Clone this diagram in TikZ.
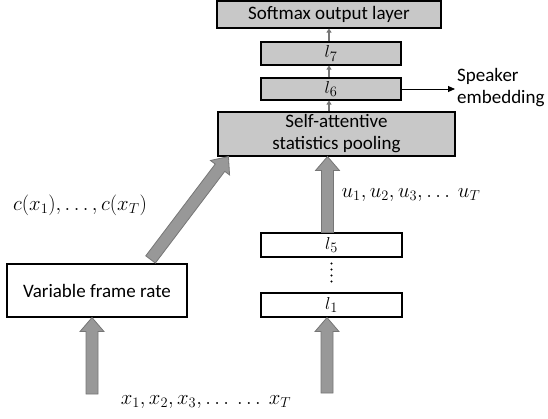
\documentclass[tikz,border=0pt]{standalone}
\usepackage{fontspec}
\setmainfont{Carlito}
\usetikzlibrary{arrows.meta,calc}
\definecolor{boxgray}{RGB}{200,200,200}
\definecolor{arrfill}{RGB}{152,152,152}
\definecolor{arrline}{RGB}{118,118,118}
\newcommand\fatarrow[2]{%
  \filldraw[fatarrow] let \p1=(#1), \p2=(#2),
    \n1={veclen(\x2-\x1,\y2-\y1)}, \n2={(\x2-\x1)/\n1}, \n3={(\y2-\y1)/\n1} in
    ({\x1-6*(\n3)},{\y1+6*(\n2)})
    -- ({\x2-14*(\n2)-6*(\n3)},{\y2-14*(\n3)+6*(\n2)})
    -- ({\x2-14*(\n2)-12*(\n3)},{\y2-14*(\n3)+12*(\n2)})
    -- (\p2)
    -- ({\x2-14*(\n2)+12*(\n3)},{\y2-14*(\n3)-12*(\n2)})
    -- ({\x2-14*(\n2)+6*(\n3)},{\y2-14*(\n3)-6*(\n2)})
    -- ({\x1+6*(\n3)},{\y1-6*(\n2)}) -- cycle;}
\tikzset{
  every node/.style={font=\fontsize{19}{22}\selectfont, inner sep=0pt},
  mathlabel/.style={font=\fontsize{19.8}{24}\selectfont},
  graybox/.style={draw=black, line width=1.1pt, fill=boxgray, align=center},
  whitebox/.style={draw=black, line width=1.1pt, fill=white, align=center},
  thinarrow/.style={draw=arrline, line width=1.6pt, -{Triangle[width=5pt,length=4pt]}},
  spkarrow/.style={draw=black, line width=0.9pt, -{Triangle[width=6pt,length=7pt]}},
  fatarrow/.style={fill=arrfill, draw=arrline, line width=0.8pt, line join=miter},
  dotline/.style={draw=black, line width=2.2pt, line cap=round, dash pattern=on 0pt off 6pt},
}
\begin{document}
\begin{tikzpicture}[x=1pt,y=-1pt]
\useasboundingbox (0,0) rectangle (548,419);
% boxes
\node[graybox, minimum width=224pt, minimum height=27pt] (soft) at (329,14.5) {Softmax output layer};
\node[graybox, minimum width=140pt, minimum height=23pt] (l7) at (331,53.5) {\raisebox{-3pt}{$l_7$}};
\node[graybox, minimum width=140pt, minimum height=22pt] (l6) at (331,89) {\raisebox{-3pt}{$l_6$}};
\node[graybox, minimum width=237pt, minimum height=44pt] (sa) at (336.5,134) {Self-attentive\\statistics pooling};
\node[whitebox, minimum width=141pt, minimum height=24pt] (l5) at (331.5,245) {\raisebox{-3pt}{$l_5$}};
\node[whitebox, minimum width=141pt, minimum height=24pt] (l1) at (331.5,305) {\raisebox{-3pt}{$l_1$}};
\node[whitebox, minimum width=180pt, minimum height=53pt] (vfr) at (97,290.5) {Variable frame rate};
% labels
\node[mathlabel] (cx) at (80,205) {$c(x_1), \ldots, c(x_T)$};
\node[mathlabel] (ux) at (411,195) {$u_1, u_2, u_3, \ldots\ u_T$};
\node[mathlabel] (xx) at (206,402) {$x_1, x_2, x_3, \ldots\ \ldots\ x_T$};
\node[align=left, anchor=west] (spk) at (457,88) {Speaker\\embedding};
% free ends
\coordinate (in1) at (92,394);
\coordinate (in2) at (327,393);
\coordinate (a5) at ([xshift=-4pt]l5.north);
\coordinate (dtail) at ([xshift=-37pt,yshift=4pt]vfr.north east);
\coordinate (dtip) at ([xshift=11pt]sa.south west);
% fat arrows
\fatarrow{in1}{in1 |- vfr.south}
\fatarrow{in2}{in2 |- l1.south}
\fatarrow{a5}{a5 |- sa.south}
\fatarrow{dtail}{dtip}
% dots
\draw[dotline] ([yshift=-6pt]l5.south) -- ([yshift=10pt]l1.north);
% thin arrows
\draw[thinarrow] ([xshift=-2pt]sa.north -| l6.south) -- ([xshift=-2pt]l6.south);
\draw[thinarrow] ([xshift=-2pt]l6.north) -- ([xshift=-2pt]l7.south);
\draw[thinarrow] ([xshift=-2pt]l7.north) -- ([xshift=-2pt]l7.north |- soft.south);
\draw[spkarrow] (l6.east) -- ([xshift=-2pt]spk.west |- l6.east);
\end{tikzpicture}
\end{document}
